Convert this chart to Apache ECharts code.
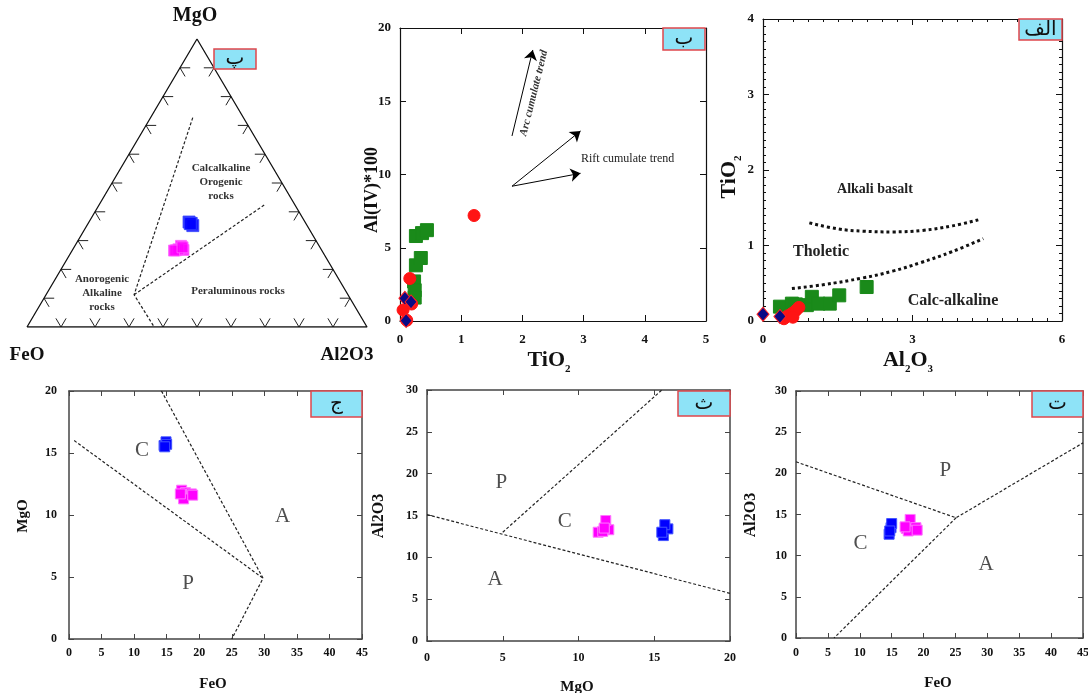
<!DOCTYPE html>
<html><head><meta charset="utf-8">
<script src="https://cdn.jsdelivr.net/npm/echarts@6/dist/echarts.min.js"></script>
<style>html,body{margin:0;padding:0;background:#fff}#c{width:1088px;height:693px}</style>
</head><body><div id="c"></div>
<script>
// ---------------- DATA ----------------
// Ternary FeO - MgO - Al2O3 (percent)
const ternCorners = [[100,0,0],[0,0,100],[0,100,0],[100,0,0]]; // FeO, Al2O3, MgO corners
const ternTicks = [10,20,30,40,50,60,70,80,90];
const ternBoundaryA = [[14.9,72.7,12.4],[62.9,11.2,25.9],[62.6,0,37.4]];
const ternBoundaryB = [[62.9,11.2,25.9],[8.8,42.5,48.7]];

// Samples (wt%) used in ternary and binary discrimination plots
const blueFeO   = [14.6,14.9,15.0,14.7];
const blueMgO   = [15.6,15.9,15.7,15.5];
const blueAl2O3 = [12.6,13.4,13.9,13.0];
const pinkFeO   = [17.3,17.9,18.8,17.6,19.0,17.1];
const pinkMgO   = [12.0,11.8,11.7,11.3,11.6,11.7];
const pinkAl2O3 = [13.3,14.4,13.4,13.0,13.1,13.5];

// Panel ب : TiO2 vs Al(IV)*100
const bGreenTiO2 = [0.26,0.36,0.44,0.26,0.34,0.23,0.24,0.24];
const bGreenAlIV = [5.8,6.0,6.2,3.8,4.3,2.7,2.1,1.6];
const bRedTiO2   = [1.21,0.16,0.05,0.19,0.11];
const bRedAlIV   = [7.2,2.9,0.75,1.16,0.05];
const bNavyTiO2  = [0.08,0.10,0.18];
const bNavyAlIV  = [1.55,0.03,1.3];
const arcArrow   = [[1.83,12.63],[2.17,18.5]];
const riftArrow1 = [[1.83,9.2],[2.95,12.97]];
const riftArrow2 = [[1.83,9.2],[2.95,10.08]];

// Panel الف : Al2O3 vs TiO2
const aGreenAl2O3 = [0.34,0.58,0.66,0.88,0.98,1.11,1.34,1.53,2.08];
const aGreenTiO2  = [0.19,0.23,0.22,0.21,0.32,0.23,0.23,0.34,0.45];
const aRedAl2O3   = [0.42,0.50,0.58,0.66,0.72,0.60];
const aRedTiO2    = [0.03,0.07,0.10,0.14,0.18,0.05];
const aNavyAl2O3  = [0.0,0.34];
const aNavyTiO2   = [0.09,0.06];
const aUpperCurve = [[0.93,1.30],[1.5,1.22],[2.0,1.19],[2.6,1.18],[3.2,1.20],[3.8,1.26],[4.32,1.34]];
const aLowerCurve = [[0.58,0.43],[1.2,0.48],[2.0,0.57],[2.6,0.66],[3.15,0.77],[3.8,0.92],[4.42,1.09]];

// Panel ج : FeO vs MgO boundaries
const jLine1 = [[0.8,16],[29.8,4.9]];
const jLine2 = [[14.2,20],[29.8,4.9],[25,0]];
// Panel ث : MgO vs Al2O3 boundaries
const thLine1 = [[0,15.1],[20,5.7]];
const thLine2 = [[5,13.0],[15.5,30]];
// Panel ت : FeO vs Al2O3 boundaries
const tLine1 = [[0,21.4],[25.1,14.6],[45,23.7]];
const tLine2 = [[25.1,14.6],[5.96,0]];

// ---------------- HELPERS ----------------
const SERIF = '"Liberation Serif","Times New Roman",serif';
function tern(p){const s=p[0]+p[1]+p[2];return [(p[2]+p[1]/2)/s, p[1]/s];}
function zip(a,b){return a.map((v,i)=>[v,b[i]]);}

const grids = [
  {left:27, top:39, width:340, height:288},
  {left:400, top:28, width:306, height:293},
  {left:763, top:19, width:299, height:302},
  {left:69, top:391, width:293, height:248},
  {left:427, top:390, width:303, height:251},
  {left:796, top:391, width:287, height:247}
];
const xAxis=[], yAxis=[];
// hidden ternary axes
xAxis.push({gridIndex:0,type:'value',min:0,max:1,show:false});
yAxis.push({gridIndex:0,type:'value',min:0,max:1,show:false});
function addAxes(g, xr, yr, o){
  const lc = o.lineColor, lw = o.lineWidth;
  const base = (r,pos,lab,margin)=>({
    gridIndex:g,type:'value',min:r[0],max:r[1],interval:r[2],position:pos,
    axisLine:{show:true,onZero:false,lineStyle:{color:lc,width:lw}},
    axisTick:{show:true,inside:true,length:o.tick,lineStyle:{color:lc,width:1}},
    minorTick:{show:!!o.minor,splitNumber:10,length:3,lineStyle:{color:lc,width:1}},
    axisLabel:{show:lab,margin:margin,fontFamily:SERIF,fontWeight:'bold',fontSize:o.fs,color:'#111',
      showMinLabel:true,showMaxLabel:true},
    splitLine:{show:false}
  });
  xAxis.push(base(xr,'bottom',true,o.xm));
  xAxis.push(base(xr,'top',false,0));
  yAxis.push(base(yr,'left',true,o.ym));
  yAxis.push(base(yr,'right',false,0));
  return xAxis.length-2;
}
const ax = [0];
ax[1]=addAxes(1,[0,5,1],[0,20,5],{lineColor:'#111',lineWidth:1.2,tick:6,fs:13,xm:12,ym:9});
ax[2]=addAxes(2,[0,6,3],[0,4,1],{lineColor:'#111',lineWidth:1.2,tick:6,fs:13,xm:12,ym:9,minor:true});
ax[3]=addAxes(3,[0,45,5],[0,20,5],{lineColor:'#444',lineWidth:1.5,tick:5,fs:12,xm:8,ym:12});
ax[4]=addAxes(4,[0,20,5],[0,30,5],{lineColor:'#444',lineWidth:1.5,tick:5,fs:12,xm:11,ym:9});
ax[5]=addAxes(5,[0,45,5],[0,30,5],{lineColor:'#444',lineWidth:1.5,tick:5,fs:12,xm:9,ym:9});

const series=[];
function onP(p){return {xAxisIndex:ax[p],yAxisIndex:ax[p]};}
function dashLine(p,data,extra){
  series.push(Object.assign({type:'line',data:data,symbol:'none',silent:true,
    lineStyle:{color:'#222',width:1.2,type:[3,2]}},onP(p),extra||{}));
}
function scatter(p,data,symbol,size,color,border){
  series.push(Object.assign({type:'scatter',data:data,symbol:symbol,symbolSize:size,
    itemStyle:{color:color,borderColor:border||color,borderWidth:1,opacity:1}},onP(p)));
}
function letters(p,items,fs){
  series.push(Object.assign({type:'scatter',symbolSize:0,silent:true,
    data:items.map(it=>({value:[it[1],it[2]],label:{show:true,formatter:it[0]}})),
    label:{position:'inside',fontFamily:SERIF,fontSize:fs,color:'#222'}},onP(p)));
}

// ---- ternary ----
series.push({type:'line',xAxisIndex:0,yAxisIndex:0,data:ternCorners.map(tern),symbol:'none',silent:true,
  lineStyle:{color:'#111',width:1.3}});
const d=3, tickSegs=[];
ternTicks.forEach(t=>{
  tickSegs.push({coords:[tern([100-t-d,d,t]),tern([100-t,0,t]),tern([100-t,d,t-d])]});
  tickSegs.push({coords:[tern([100-t-d,t,d]),tern([100-t,t,0]),tern([100-t,t-d,d])]});
  tickSegs.push({coords:[tern([d,t,100-t-d]),tern([0,t,100-t]),tern([d,t-d,100-t])]});
});
series.push({type:'lines',coordinateSystem:'cartesian2d',xAxisIndex:0,yAxisIndex:0,polyline:true,silent:true,
  data:tickSegs,lineStyle:{color:'#222',width:1,opacity:1},symbol:'none'});
[ternBoundaryA,ternBoundaryB].forEach(b=>series.push({type:'line',xAxisIndex:0,yAxisIndex:0,data:b.map(tern),
  symbol:'none',silent:true,lineStyle:{color:'#222',width:1.2,type:[3,2]}}));
series.push({type:'scatter',xAxisIndex:0,yAxisIndex:0,symbol:'rect',symbolSize:12,
  data:blueFeO.map((f,i)=>tern([f,blueMgO[i],blueAl2O3[i]])),itemStyle:{color:'#0000ff',borderColor:'#3344ff',borderWidth:1}});
series.push({type:'scatter',xAxisIndex:0,yAxisIndex:0,symbol:'rect',symbolSize:11,
  data:pinkFeO.map((f,i)=>tern([f,pinkMgO[i],pinkAl2O3[i]])),itemStyle:{color:'#ff00ff',borderColor:'#ff66ff',borderWidth:1}});

// ---- ب ----
series.push(Object.assign({type:'lines',coordinateSystem:'cartesian2d',silent:true,
  data:[{coords:arcArrow},{coords:riftArrow1},{coords:riftArrow2}],
  symbol:['none','arrow'],symbolSize:10,lineStyle:{color:'#000',width:1,opacity:1}},onP(1)));
scatter(1,zip(bGreenTiO2,bGreenAlIV),'rect',13,'#1a8a1a');
scatter(1,zip(bRedTiO2,bRedAlIV),'circle',12,'#ff1414');
scatter(1,zip(bNavyTiO2,bNavyAlIV),'diamond',[12,14],'#0a0a85','#ff2020');

// ---- الف ----
dashLine(2,aUpperCurve,{smooth:0.4,lineStyle:{color:'#111',width:3,type:[3,3]}});
dashLine(2,aLowerCurve,{smooth:0.4,lineStyle:{color:'#111',width:3,type:[3,3]}});
scatter(2,zip(aGreenAl2O3,aGreenTiO2),'rect',13,'#1a8a1a');
scatter(2,zip(aRedAl2O3,aRedTiO2),'circle',12,'#ff1414');
scatter(2,zip(aNavyAl2O3,aNavyTiO2),'diamond',[12,14],'#0a0a85','#ff2020');

// ---- ج ----
dashLine(3,jLine1); dashLine(3,jLine2);
scatter(3,zip(blueFeO,blueMgO),'rect',10,'#0000ff','#4455ff');
scatter(3,zip(pinkFeO,pinkMgO),'rect',10,'#ff00ff','#ff77ff');
letters(3,[['C',11.2,15.2],['P',18.3,4.5],['A',32.8,9.9]],21);

// ---- ث ----
dashLine(4,thLine1); dashLine(4,thLine2);
scatter(4,zip(pinkMgO,pinkAl2O3),'rect',10,'#ff00ff','#ff77ff');
scatter(4,zip(blueMgO,blueAl2O3),'rect',10,'#0000ff','#4455ff');
letters(4,[['P',4.9,19.0],['C',9.1,14.3],['A',4.5,7.4]],21);

// ---- ت ----
dashLine(5,tLine1); dashLine(5,tLine2);
scatter(5,zip(blueFeO,blueAl2O3),'rect',10,'#0000ff','#4455ff');
scatter(5,zip(pinkFeO,pinkAl2O3),'rect',10,'#ff00ff','#ff77ff');
letters(5,[['P',23.4,20.4],['C',10.1,11.5],['A',29.8,8.9]],21);

// ---------------- GRAPHIC TEXT ----------------
const g=[];
function txt(x,y,text,fs,opt){
  opt=opt||{};
  g.push({type:'text',x:x,y:y,rotation:opt.rot||0,z:50,silent:true,
    style:Object.assign({text:text,font:(opt.style||'')+' '+(opt.weight||'bold')+' '+fs+'px '+SERIF,
      fill:opt.color||'#111',align:opt.align||'center',verticalAlign:'middle',lineHeight:opt.lh},opt.extra||{})});
}
// parts: array of [text, isSub]
function sub(x,y,parts,fs,rot){
  g.push({type:'text',x:x,y:y,rotation:rot||0,z:50,silent:true,style:{
    text:parts.map(p=>'{'+(p[1]?'s':'m')+'|'+p[0]+'}').join(''),align:'center',verticalAlign:'middle',fill:'#111',
    rich:{m:{fontFamily:SERIF,fontWeight:'bold',fontSize:fs,lineHeight:fs+8,fill:'#111'},
          s:{fontFamily:SERIF,fontWeight:'bold',fontSize:Math.round(fs*0.5),lineHeight:fs+8,verticalAlign:'bottom',fill:'#111'}}}});
}
function box(x,y,w,h,t){
  g.push({type:'rect',z:60,shape:{x:x,y:y,width:w,height:h},style:{fill:'#8ee3f7',stroke:'#e0474c',lineWidth:1.5}});
  g.push({type:'text',z:61,x:x+w/2,y:y+h/2,style:{text:t,font:'20px "DejaVu Sans",sans-serif',fill:'#111',align:'center',verticalAlign:'middle'}});
}
// ternary
txt(195,16,'MgO',20); txt(27,355,'FeO',19); txt(347,355,'Al2O3',19);
txt(221,182,'Calcalkaline\nOrogenic\nrocks',11,{lh:14,color:'#333'});
txt(102,293,'Anorogenic\nAlkaline\nrocks',11,{lh:14,color:'#333'});
txt(238,291,'Peraluminous rocks',11,{color:'#333'});
box(214,49,42,20,'پ');
// ب
sub(549,360,[['TiO',0],['2',1]],22);
txt(372,190,'Al(IV)*100',18,{rot:Math.PI/2});
txt(534,93,'Arc cumulate trend',11,{rot:76*Math.PI/180,style:'italic',color:'#333'});
txt(581,159,'Rift cumulate trend',12,{align:'left',weight:'normal',color:'#222'});
box(663,28,42,22,'ب');
// الف
sub(908,360,[['Al',0],['2',1],['O',0],['3',1]],22);
sub(729,177,[['TiO',0],['2',1]],22,Math.PI/2);
txt(875,189,'Alkali basalt',14,{color:'#222'});
txt(821,252,'Tholetic',16,{color:'#222'});
txt(953,301,'Calc-alkaline',16,{color:'#222'});
box(1019,19,43,21,'الف');
// bottom
txt(213,684,'FeO',15); txt(23,516,'MgO',15,{rot:Math.PI/2});
box(311,391,51,26,'ج');
txt(577,687,'MgO',15); txt(379,516,'Al2O3',16,{rot:Math.PI/2});
box(678,391,52,25,'ث');
txt(938,683,'FeO',15); txt(751,515,'Al2O3',16,{rot:Math.PI/2});
box(1032,391,51,26,'ت');

const chart=echarts.init(document.getElementById('c'),null,{renderer:'canvas'});
chart.setOption({
  animation:false,backgroundColor:'#fff',
  grid:grids.map(gr=>Object.assign({containLabel:false,outerBoundsMode:'none'},gr)),
  xAxis:xAxis,yAxis:yAxis,series:series,graphic:g
});
</script></body></html>
